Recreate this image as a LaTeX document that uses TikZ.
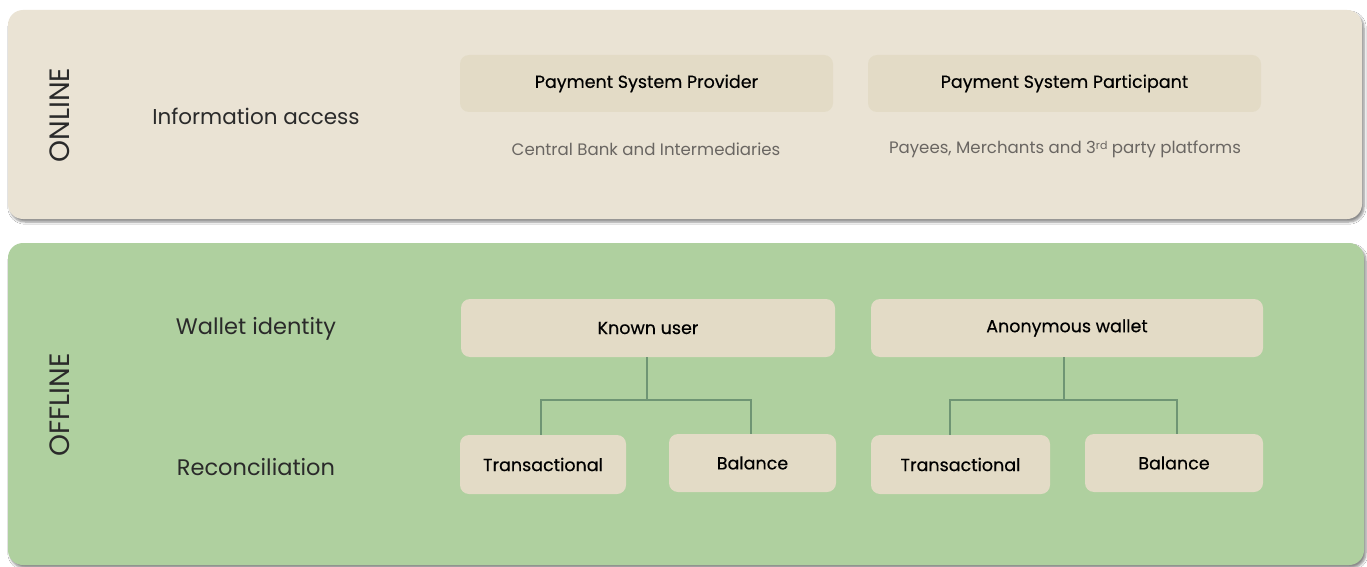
\documentclass[tikz,border=0pt]{standalone}
\usepackage{fontspec}
\setmainfont{Poppins}
\newfontfamily\boxfont[FakeBold=0.35]{Poppins}
\usetikzlibrary{shadows.blur}
\definecolor{panelTan}{HTML}{EAE3D4}
\definecolor{panelGreen}{HTML}{AFD09F}
\definecolor{boxTan}{HTML}{E3DBC6}
\definecolor{linkGreen}{HTML}{6F9574}
\definecolor{labelInk}{HTML}{2A2A2A}
\definecolor{noteInk}{HTML}{6A6662}
\tikzset{
  x=1pt, y=-1pt,
  panel/.style={rounded corners=15pt, blur shadow={shadow xshift=2pt, shadow yshift=-3pt, shadow blur steps=6, shadow opacity=45}},
  itembox/.style={fill=boxTan, rounded corners=9pt, inner sep=0pt, text=black, font=\boxfont\fontsize{17.5}{21}\selectfont},
  rowlabel/.style={text=labelInk, font=\fontsize{22.5}{27}\selectfont},
  sidelabel/.style={text=labelInk, rotate=90, font=\fontsize{28}{32}\selectfont},
  note/.style={text=noteInk, font=\fontsize{16.6}{20}\selectfont},
  link/.style={draw=linkGreen, line width=2pt}
}
\newcommand{\ordsup}[1]{\raisebox{0.45ex}{\fontsize{11}{12}\selectfont #1}}
\begin{document}
\begin{tikzpicture}
\useasboundingbox (0,0) rectangle (1367,567);
\fill[white] (0,0) rectangle (1367,567);

% panels
\fill[panel, panelTan] (8,10) rectangle (1362,219);
\fill[panel, panelGreen] (8,243) rectangle (1364,565);

% online section
\node[sidelabel] (online) at (60,115) {ONLINE};
\node[rowlabel, font=\fontsize{21.5}{26}\selectfont] (info) at (256,116) {Information access};
\node[itembox, minimum width=373pt, minimum height=57pt] (provider) at (646.5,83.5) {\raisebox{-2pt}{Payment System Provider}};
\node[itembox, minimum width=393pt, minimum height=57pt] (participant) at (1064.5,83.5) {\raisebox{-2pt}{Payment System Participant}};
\node[note] (cb) at (646,149) {Central Bank and Intermediaries};
\node[note] (payees) at (1065,149) {Payees, Merchants and 3\ordsup{rd} party platforms};

% offline section
\node[sidelabel] (offline) at (60,405) {OFFLINE};
\node[rowlabel] (wallet) at (256,329) {Wallet identity};
\node[rowlabel] (recon) at (256,467) {Reconciliation};

\node[itembox, minimum width=374pt, minimum height=58pt] (known) at (648,328) {\raisebox{-2pt}{Known user}};
\node[itembox, minimum width=392pt, minimum height=58pt] (anon) at (1067,328) {\raisebox{-2pt}{Anonymous wallet}};
\node[itembox, minimum width=166pt, minimum height=59pt] (transL) at (543,464.5) {\raisebox{-2pt}{Transactional}};
\node[itembox, minimum width=167pt, minimum height=58pt] (balL) at (752.5,463) {\raisebox{-2pt}{Balance}};
\node[itembox, minimum width=179pt, minimum height=59pt] (transR) at (960.5,464.5) {\raisebox{-2pt}{Transactional}};
\node[itembox, minimum width=178pt, minimum height=58pt] (balR) at (1174,463) {\raisebox{-2pt}{Balance}};

% tree connectors
\coordinate (kj) at (647,400);
\coordinate (aj) at (1064,400);
\draw[link] (known.south -| kj) -- (kj);
\draw[link] (transL.north -| 541,0) |- (kj) -| (balL.north -| 751,0);
\draw[link] (anon.south -| aj) -- (aj);
\draw[link] (transR.north -| 950,0) |- (aj) -| (balR.north -| 1177,0);
\end{tikzpicture}
\end{document}
